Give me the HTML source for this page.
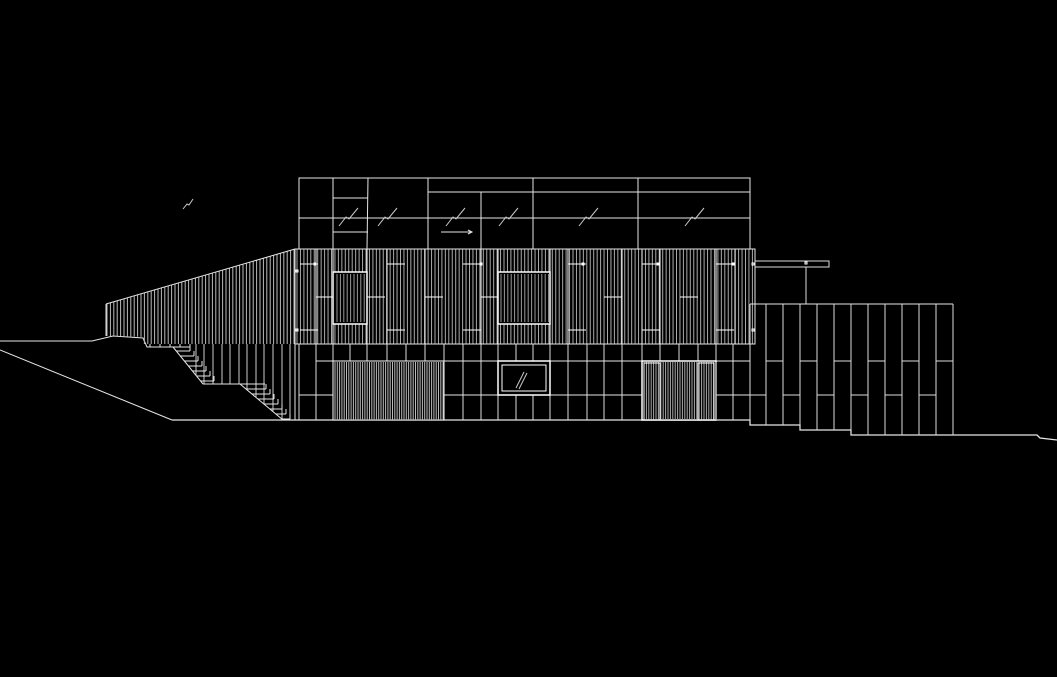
<!DOCTYPE html>
<html><head><meta charset="utf-8"><style>
html,body{margin:0;padding:0;background:#000;width:1057px;height:677px;overflow:hidden}
svg{display:block}
</style></head><body>
<svg id="s" width="1057" height="677" viewBox="0 0 1057 677" xmlns="http://www.w3.org/2000/svg" fill="none" stroke="#e6e6e6" stroke-width="1">
<g id="g"></g>
</svg>
<script>
var g=document.getElementById('g'),out='';
function L(x1,y1,x2,y2,c,w){out+='<line x1="'+x1+'" y1="'+y1+'" x2="'+x2+'" y2="'+y2+'"'+(c?' stroke="'+c+'"':'')+(w?' stroke-width="'+w+'"':'')+'/>';}
function R(x,y,w,h,c,sw){out+='<rect x="'+x+'" y="'+y+'" width="'+w+'" height="'+h+'"'+(c?' stroke="'+c+'"':'')+(sw?' stroke-width="'+sw+'"':'')+'/>';}
function P(d,c,w){out+='<polyline points="'+d+'"'+(c?' stroke="'+c+'"':'')+(w?' stroke-width="'+w+'"':'')+'/>';}
// ground
P('0,341 92,341 113,336 143,338 147,347 190,347');
L(0,350,172,420);
P('172,420 750,420 750,425 800,425 800,430 851,430 851,435 1037,435 1040,438 1057,440',null,1.3);
// slanted band stripes
for(var x=107;x<295;x+=3.4){var t=304-(x-106)*(55/189);var b=x<113?336:(x<143?336+(x-113)*0.03:344);L(x,t,x,b,'#bbb');}
L(106,304,295,249);L(106,304,106,336);
// main band
for(var x=297;x<755;x+=3.45){L(x,249,x,344,'#aaa');}
R(295,249,460,95);L(295,344,755,344);
[316,333,367,387,425,481,498,550,568,622,642,660,716,735].forEach(function(x){L(x,249,x,344,'#fff');});
[[300,264],[387,264],[463,264],[568,264],[642,264],[716,264],[300,330],[387,330],[463,330],[568,330],[642,330],[716,330],[316,297],[367,297],[425,297],[481,297],[604,297],[680,297]].forEach(function(p){L(p[0],p[1],p[0]+18,p[1],'#fff');});
[[297,271],[297,330],[753,264],[753,330],[315,264],[481,264],[583,264],[658,264],[733,264]].forEach(function(p){R(p[0]-1,p[1]-1,2,2,'#fff');});
out+='<rect x="333" y="272" width="34" height="52" fill="#000" stroke="#fff" stroke-width="1.5"/>';
for(var x=337;x<365;x+=3.4)L(x,274,x,322,'#999');
out+='<rect x="498" y="272" width="52" height="52" fill="#000" stroke="#fff" stroke-width="1.5"/>';
for(var x=501;x<549;x+=3.4)L(x,274,x,322,'#999');
// top box
R(299,178,451,71);
L(428,192,750,192);L(299,218,750,218);
L(333,178,333,249);L(368,178,367,249);L(428,178,428,249);L(481,192,481,249);L(533,178,533,249);L(638,178,638,249);
L(333,198,368,198);L(333,232,368,232);
[[348,216],[387,216],[455,216],[508,216],[588,216],[694,216]].forEach(function(p){var x=p[0],y=p[1];P((x-9)+','+(y+10)+' '+(x-2)+','+(y+1)+' '+(x+1)+','+(y+3)+' '+(x+10)+','+(y-8),'#ccc');});
P('183,209 187,204 189,205 193,199','#ccc');
L(441,232,471,232);P('468,230 472,232 468,234');
// lower floor
L(295,344,295,420);
[299,316,333,350,367,387,406,425,444,463,481,498,516,533,550,568,587,604,622,642,660,679,698,716,733,750].forEach(function(x){L(x,344,x,420,'#ddd');});
L(316,361,750,361);
L(299,395,333,395);L(444,395,498,395);L(550,395,642,395);L(716,395,750,395);
out+='<rect x="333" y="361" width="111" height="59" fill="#000" stroke="#fff"/>';
for(var x=335;x<444;x+=2.3)L(x,362,x,420,'#bbb');
out+='<rect x="498" y="361" width="52" height="34" fill="#000" stroke="#fff" stroke-width="1.5"/>';
R(502,365,44,26,'#fff');L(516,388,524,372,'#ccc');L(519,389,527,373,'#ccc');
out+='<rect x="642" y="361" width="74" height="59" fill="#000" stroke="#fff" stroke-width="1.5"/>';
for(var x=644;x<716;x+=2.4)L(x,362,x,420,'#aaa');
R(644,363,16,57,'#fff');R(698,363,16,57,'#fff');
// stairs area
[196,204,213,222,230,239,247,256,264,273,282,290].forEach(function(x){var yb;if(x<203)yb=347+(x-173)*37/30;else if(x<240)yb=384;else yb=Math.min(420,384+(x-240)*36/43);L(x,344,x,yb,'#ccc');});
L(150,344,150,347);L(160,344,160,347);L(170,344,170,347);L(180,344,180,347);L(190,344,190,347);
L(173,347,203,384);L(203,384,265,384);L(240,384,283,420);
for(var i=0;i<7;i++){var y=351+i*5;var x=173+(y-347)*30/37;L(x,y,190+i*4,y);L(190+i*4,y,190+i*4,y-5);}
for(var i=0;i<7;i++){var y=389+i*5;var x=240+(y-384)*43/36;L(x,y,266+i*4,y);L(266+i*4,y,266+i*4,y-5);}
// right block
L(750,304,953,304);L(953,304,953,435);
var xs=[750,766,783,800,817,834,851,868,885,902,919,936,953];
xs.forEach(function(x){var yb=x<800?425:(x<851?430:435);L(x,304,x,yb,'#ddd');});
for(var i=0;i<12;i++){var y=(i%2)?361:395;L(xs[i],y,xs[i+1],y,'#ddd');}
L(735,361,750,361);L(735,395,750,395);
// canopy
R(755,261,74,6,'#ddd');L(806,267,806,304,'#ddd');R(805,262,2,2,'#fff');
g.innerHTML=out;
</script>
</body></html>
